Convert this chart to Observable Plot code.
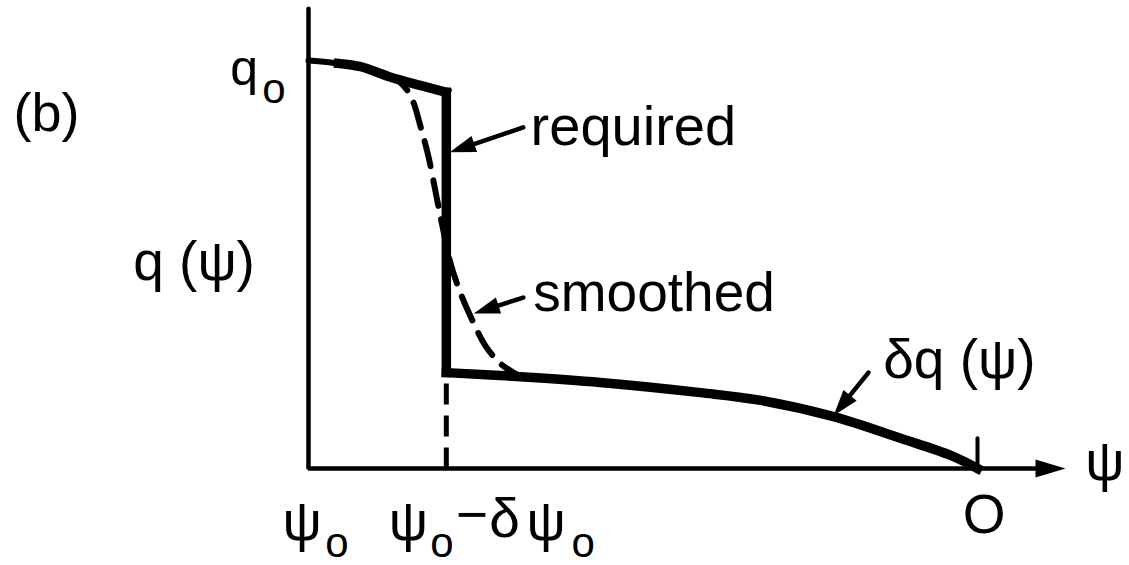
<!DOCTYPE html>
<html><head><meta charset="utf-8">
<script src="https://cdn.jsdelivr.net/npm/d3@7"></script>
<script src="https://cdn.jsdelivr.net/npm/@observablehq/plot@0.6"></script>
<style>html,body{margin:0;padding:0;background:#fff;} svg{display:block}</style>
</head><body><div id="chart"></div>
<script>
// ψ runs from ψo (0) to O (1); q runs from 0 to qo (1)
// required profile, in three pieces: plateau, jump, tail δq(ψ)
const psiRequired = [0.045, 0.078, 0.123, 0.167, 0.206,   0.206, 0.206,   0.206, 0.317, 0.436, 0.586, 0.676, 0.785, 0.885, 0.960, 1];
const qRequired   = [0.993, 0.985, 0.959, 0.939, 0.922,   0.922, 0.235,   0.235, 0.225, 0.211, 0.186, 0.167, 0.127, 0.074, 0.032, 0];
const pieceRequired = ["top", "top", "top", "top", "top", "jump", "jump", "tail", "tail", "tail", "tail", "tail", "tail", "tail", "tail", "tail"];
// smoothed profile
const psiSmoothed = [0, 0.033, 0.078, 0.123, 0.137, 0.148, 0.157, 0.167, 0.179, 0.191, 0.200, 0.212, 0.227, 0.245, 0.264, 0.287, 0.317];
const qSmoothed   = [1, 0.995, 0.985, 0.961, 0.946, 0.926, 0.897, 0.841, 0.767, 0.669, 0.596, 0.505, 0.431, 0.363, 0.302, 0.257, 0.225];
// ψo − δψo marker
const psiStep = [0.206, 0.206];
const qStep = [0, 0.235];
// axes
const psiAxisEnd = 1.1315;
const qAxisEnd = 1.127;
const psiZero = 1;
// annotation arrows: from [ψ, q] to [ψ, q]
const arrowNames = ["required", "smoothed", "δq(ψ)"];
const arrowFrom = [[0.321, 0.836], [0.321, 0.419], [0.837, 0.235]];
const arrowTo   = [[0.211, 0.775], [0.247, 0.380], [0.785, 0.130]];
// text labels
const labelText = ["(b)", "q", "o", "q (ψ)", "required", "smoothed", "δq (ψ)", "ψ", "o", "ψ", "o", "−", "δ", "ψ", "o", "O", "ψ"];
const labelPsi  = [-0.441, -0.117, -0.069, -0.262, 0.332, 0.336, 0.859, -0.039, 0.025, 0.120, 0.182, 0.220, 0.270, 0.326, 0.393, 0.978, 1.161];
const labelQ    = [0.828, 0.939, 0.895, 0.461, 0.792, 0.387, 0.223, -0.176, -0.216, -0.176, -0.216, -0.159, -0.169, -0.176, -0.216, -0.159, -0.029];
const labelSize = [54, 50, 42, 55, 56, 55, 55, 55, 42, 55, 42, 55, 55, 55, 42, 55, 55];

const W = 1129, H = 565, mL = 308, mR = 152, mT = 60, mB = 97;
const kx = (W - mL - mR), ky = (H - mT - mB);
const font = "Liberation Sans, Arial, sans-serif";

const required = psiRequired.map((x, i) => ({x, y: qRequired[i], z: pieceRequired[i]}));
const smoothed = psiSmoothed.map((x, i) => ({x, y: qSmoothed[i]}));
const step = psiStep.map((x, i) => ({x, y: qStep[i]}));
const labels = labelText.map((t, i) => ({t, x: labelPsi[i], y: labelQ[i], s: labelSize[i]}));

function head(L, Wd) {
  return {draw(ctx) { ctx.moveTo(0, 0); ctx.lineTo(-Wd / 2, L); ctx.lineTo(Wd / 2, L); ctx.closePath(); }};
}
const angle = (x1, y1, x2, y2) => Math.atan2((x2 - x1) * kx, (y2 - y1) * ky) * 180 / Math.PI;
const arrows = arrowNames.map((n, i) => {
  const [x1, y1] = arrowFrom[i], [x2, y2] = arrowTo[i];
  const dpx = Math.hypot((x2 - x1) * kx, (y2 - y1) * ky);
  const f = 14 / dpx;
  return {n, x1, y1, x2, y2, xe: x2 + (x1 - x2) * f, ye: y2 + (y1 - y2) * f, r: angle(x1, y1, x2, y2)};
});

const plot = Plot.plot({
  width: W, height: H,
  marginLeft: mL, marginRight: mR, marginTop: mT, marginBottom: mB,
  x: {domain: [0, 1], axis: null},
  y: {domain: [0, 1], axis: null},
  style: {background: "#fff", color: "#000"},
  marks: [
    // axes
    Plot.line([{x: 0, y: qAxisEnd}, {x: 0, y: 0}, {x: psiAxisEnd - 0.03, y: 0}], {x: "x", y: "y", stroke: "#000", strokeWidth: 4.5, strokeLinejoin: "miter"}),
    Plot.dot([{x: psiAxisEnd, y: 0}], {x: "x", y: "y", symbol: head(30, 18), fill: "#000", stroke: "none", rotate: 90, r: 10}),
    Plot.line([{x: psiZero, y: 0}, {x: psiZero, y: 0.074}], {x: "x", y: "y", stroke: "#000", strokeWidth: 4}),
    // dashed step marker
    Plot.line(step, {x: "x", y: "y", stroke: "#000", strokeWidth: 5, strokeDasharray: "21,11", strokeLinecap: "butt"}),
    // smoothed
    Plot.line(smoothed, {x: "x", y: "y", stroke: "#000", strokeWidth: 6, strokeDasharray: "26,14", curve: "catmull-rom", strokeLinecap: "round"}),
    // required
    Plot.line(required, {x: "x", y: "y", z: "z", stroke: "#000", strokeWidth: 9.5, curve: "catmull-rom", strokeLinecap: "square"}),
    // annotation arrows
    Plot.link(arrows, {x1: "x1", y1: "y1", x2: "xe", y2: "ye", stroke: "#000", strokeWidth: 4.5, strokeLinecap: "round"}),
    Plot.dot(arrows, {x: "x2", y: "y2", rotate: "r", symbol: head(26, 17), fill: "#000", stroke: "none", r: 10}),
    // labels
    Plot.text(labels, {x: "x", y: "y", text: "t", fontSize: "s", textAnchor: "start", lineAnchor: "bottom", fontFamily: font, fill: "#000"})
  ]
});
document.getElementById("chart").appendChild(plot);
</script>
</body></html>
